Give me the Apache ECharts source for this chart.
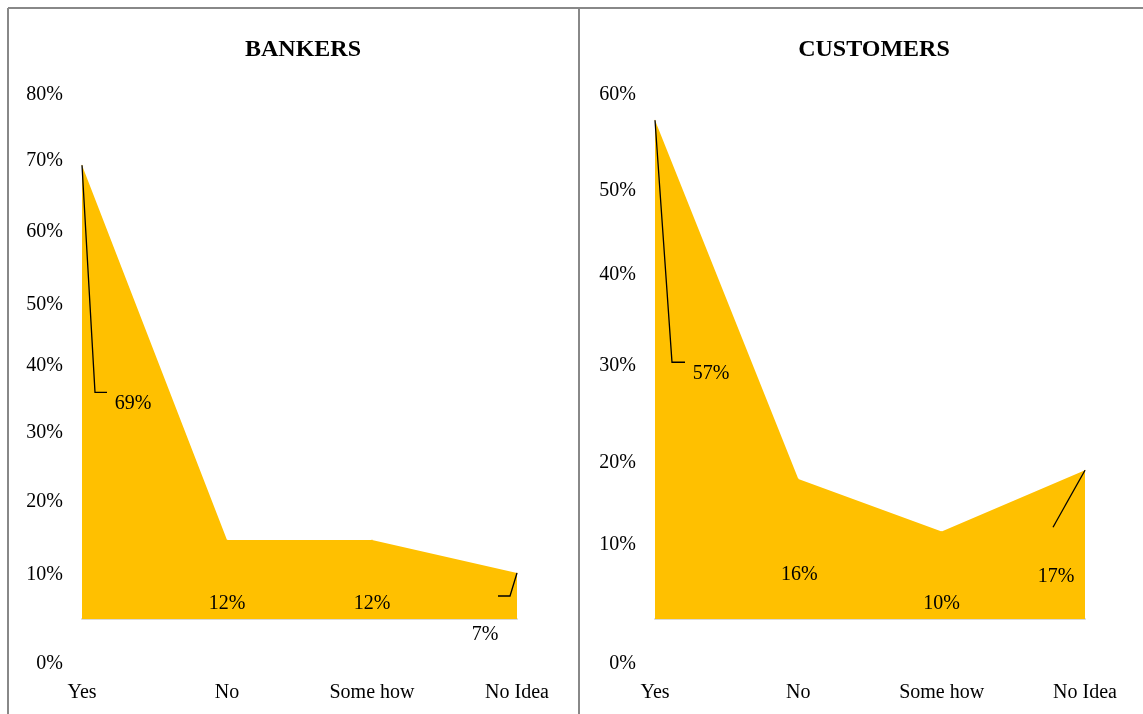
<!DOCTYPE html>
<html>
<head>
<meta charset="utf-8">
<script src="https://cdn.jsdelivr.net/npm/echarts@6/dist/echarts.min.js"></script>
<style>
html,body{margin:0;padding:0;background:#fff;}
#chart{width:1143px;height:714px;}
</style>
</head>
<body>
<div id="chart"></div>
<script>
// ---- data ----
const categories = ['Yes', 'No', 'Some how', 'No Idea'];
const bankersValues = [69, 12, 12, 7];
const customersValues = [57, 16, 10, 17];
const panelTitles = ['BANKERS', 'CUSTOMERS'];
const bankersAxisMax = 80;
const customersAxisMax = 60;
const axisInterval = 10;

// ---- layout / style ----
const FONT = '"Liberation Serif", "DejaVu Serif", serif';
const AREA = '#FFC000';
const panels = [
  { left: 82, width: 435, areaTop: 93, title: panelTitles[0], titleX: 298,
    values: bankersValues, max: bankersAxisMax,
    offsets: [[51, 238], [0, 64], [0, 64], [-32, 62]],
    // vertical shift of each tick label (0%,10%,...), px
    tickShift: [0, -18, -20, -18, -14, -4, -6, -5, 0],
    leaders: [[[0, 0], [13, 227], [25, 227]], null, null, [[0, 0], [-7, 23], [-19, 23]]] },
  { left: 655, width: 430, areaTop: 94, title: panelTitles[1], titleX: 869,
    values: customersValues, max: customersAxisMax,
    offsets: [[56, 253], [1, 96], [0, 72], [-29, 106]],
    tickShift: [0, -24, -12, -14, -10, 1, 0],
    leaders: [[[0, 0], [17, 242], [30, 242]], null, null, [[0, 0], [-32, 57]]] }
];
const BASE = 619, AXIS_TOP = 95, AXIS0 = 664;

const grids = [], xAxes = [], yAxes = [], series = [], titles = [];
panels.forEach((p, i) => {
  grids.push({ left: p.left, width: p.width, top: p.areaTop, height: BASE - p.areaTop });
  grids.push({ left: p.left, width: p.width, top: AXIS_TOP, height: AXIS0 - AXIS_TOP });
  xAxes.push({
    gridIndex: 2 * i, type: 'category', data: categories, boundaryGap: false,
    axisLine: { show: true, lineStyle: { color: '#d9d9d9', width: 2 } },
    axisTick: { show: false },
    axisLabel: { margin: 64, color: '#000', fontFamily: FONT, fontSize: 20 },
    splitLine: { show: false }
  });
  xAxes.push({ gridIndex: 2 * i + 1, type: 'category', data: categories, show: false });
  yAxes.push({ gridIndex: 2 * i, type: 'value', min: 0, max: p.max, show: false, splitLine: { show: false } });
  const rich = {};
  p.tickShift.forEach((s, k) => {
    rich['t' + k] = {
      color: '#000', fontFamily: FONT, fontSize: 20,
      padding: s < 0 ? [0, 0, -2 * s, 0] : [2 * s, 0, 0, 0]
    };
  });
  yAxes.push({
    gridIndex: 2 * i + 1, type: 'value', min: 0, max: p.max, interval: axisInterval,
    axisLine: { show: false }, axisTick: { show: false }, splitLine: { show: false },
    axisLabel: {
      margin: 19, color: '#000', fontFamily: FONT, fontSize: 20,
      formatter: (v) => '{t' + Math.round(v / axisInterval) + '|' + v + '%}',
      rich: rich
    }
  });
  const offs = p.offsets;
  series.push({
    type: 'line', xAxisIndex: 2 * i, yAxisIndex: 2 * i,
    data: p.values,
    symbol: 'circle', symbolSize: 1, showSymbol: true,
    itemStyle: { color: AREA },
    lineStyle: { width: 0, opacity: 0 },
    areaStyle: { color: AREA, opacity: 1 },
    silent: true, animation: false,
    label: { show: true, position: 'inside', formatter: '{c}%', color: '#000', fontFamily: FONT, fontSize: 20 },
    labelLayout: (params) => ({ dx: offs[params.dataIndex][0], dy: offs[params.dataIndex][1] })
  });
  const leaders = p.leaders;
  series.push({
    type: 'custom', xAxisIndex: 2 * i, yAxisIndex: 2 * i, z: 5, silent: true, clip: false,
    data: p.values.map((v, k) => [k, v]),
    renderItem: (params, api) => {
      const path = leaders[params.dataIndex];
      if (!path) return null;
      const pt = api.coord([api.value(0), api.value(1)]);
      return {
        type: 'polyline',
        shape: { points: path.map(d => [pt[0] + d[0], pt[1] + d[1]]) },
        style: { stroke: '#000', lineWidth: 1.3, fill: null }
      };
    }
  });
  titles.push({
    text: p.title, left: p.titleX, top: 33, textAlign: 'center',
    textStyle: { fontFamily: FONT, fontSize: 24, fontWeight: 'bold', color: '#000' }
  });
});

const chart = echarts.init(document.getElementById('chart'), null, { renderer: 'canvas' });
chart.setOption({
  backgroundColor: '#fff',
  animation: false,
  title: titles,
  grid: grids,
  xAxis: xAxes,
  yAxis: yAxes,
  series: series,
  graphic: [
    { type: 'line', shape: { x1: 8, y1: 8, x2: 1143, y2: 8 }, style: { stroke: '#888', lineWidth: 2 } },
    { type: 'line', shape: { x1: 8, y1: 8, x2: 8, y2: 714 }, style: { stroke: '#888', lineWidth: 2 } },
    { type: 'line', shape: { x1: 579, y1: 8, x2: 579, y2: 714 }, style: { stroke: '#888', lineWidth: 2 } }
  ]
});
</script>
</body>
</html>
